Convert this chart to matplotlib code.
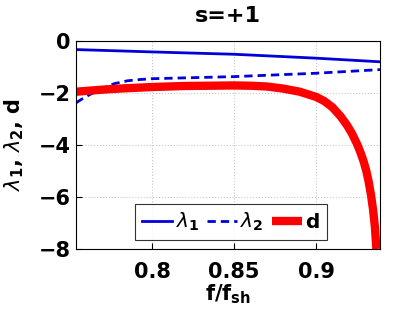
import matplotlib
matplotlib.use("Agg")
import matplotlib.pyplot as plt
import numpy as np

plt.rcParams['font.family'] = ['DejaVu Sans']
plt.rcParams['mathtext.fontset'] = 'dejavusans'

x_l1 = [0.7536, 0.78, 0.80, 0.85, 0.90, 0.939]
l1 = [-0.33, -0.38, -0.42, -0.51, -0.66, -0.80]

x_l2 = [0.7536, 0.757, 0.762, 0.767, 0.772, 0.777, 0.785, 0.793, 0.80, 0.85, 0.90, 0.939]
l2 = [-2.38, -2.24, -2.06, -1.91, -1.76, -1.64, -1.53, -1.48, -1.45, -1.37, -1.24, -1.10]

x_d = [0.7536, 0.77, 0.78, 0.80, 0.82, 0.85, 0.86, 0.87, 0.88, 0.89, 0.90, 0.905,
       0.91, 0.915, 0.919, 0.922, 0.925, 0.927, 0.929, 0.9305, 0.932, 0.9335,
       0.9348, 0.9359, 0.9368]
d = [-1.95, -1.87, -1.83, -1.77, -1.73, -1.71, -1.72, -1.75, -1.83, -1.95, -2.15, -2.31,
     -2.55, -2.90, -3.25, -3.57, -3.96, -4.27, -4.63, -4.96, -5.38, -5.92,
     -6.50, -7.16, -8.00]

fig = plt.figure(figsize=(4.19, 3.15), dpi=100)
ax = fig.add_axes([76/419, 1-249/315, (380-76)/419, (249-41)/315])

blue = (0, 0, 0.85)
ax.plot(x_l1, l1, color=blue, lw=2.0, label=r'$\lambda_\mathbf{1}$')
ax.plot(x_l2, l2, color=blue, lw=2.0, ls=(0, (3, 1.8)), label=r'$\lambda_\mathbf{2}$')
ax.plot(x_d, d, color=(1, 0, 0), lw=6.0, label=r'$\mathbf{d}$', solid_capstyle='butt',
        solid_joinstyle='round')

ax.set_xlim(0.7536, 0.9390)
ax.set_ylim(-8, 0)
ax.set_xticks([0.8, 0.85, 0.9])
ax.set_xticklabels(['0.8', '0.85', '0.9'])
ax.set_yticks([-8, -6, -4, -2, 0])
ax.set_yticklabels(['\u22128', '\u22126', '\u22124', '\u22122', '0'])
ax.grid(True, color='#c8c8c8', ls=':', lw=0.8)
ax.tick_params(direction='in', length=4, labelsize=15, width=0.8)
ax.tick_params(axis='x', pad=9)
ax.tick_params(axis='y', pad=4)
for lab in ax.get_xticklabels() + ax.get_yticklabels():
    lab.set_fontweight('bold')
for s in ax.spines.values():
    s.set_linewidth(0.8)

ax.set_title('s=+1', fontsize=16, fontweight='bold', pad=14)
ax.set_xlabel(r'f/f$_\mathbf{sh}$', fontsize=15, fontweight='bold', labelpad=1)
ax.set_ylabel(r'$\lambda_\mathbf{1}$, $\lambda_\mathbf{2}$, d', fontsize=15, fontweight='bold', labelpad=9)

leg = ax.legend(loc='lower center', bbox_to_anchor=(0.51, 0.0), ncol=3,
                prop={'weight': 'bold', 'size': 14.5}, frameon=True, fancybox=False,
                edgecolor='black', handlelength=1.5, handletextpad=0.15, columnspacing=0.4,
                borderpad=0.35, borderaxespad=0.45)
leg.get_frame().set_linewidth(0.8)

fig.savefig('out.png', dpi=100)
